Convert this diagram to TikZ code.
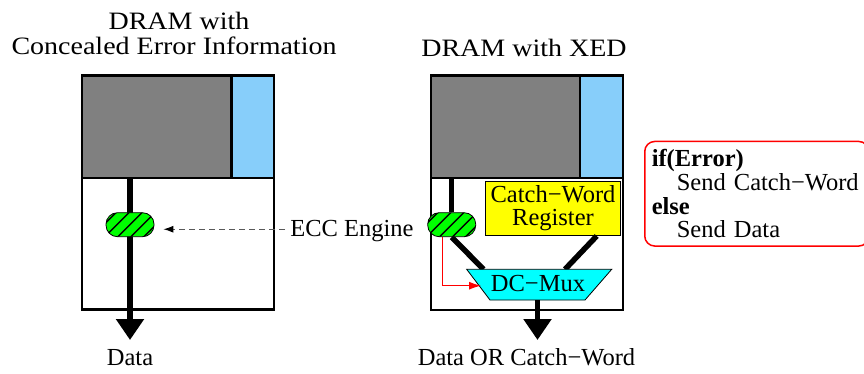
\documentclass[tikz,border=0pt]{standalone}
\usepackage{fontspec}
\setmainfont{Liberation Serif}
\newfontfamily\titlefont[FakeStretch=1.12]{Liberation Serif}
\usetikzlibrary{arrows.meta,calc}
\definecolor{dgray}{RGB}{128,128,128}
\definecolor{lblue}{RGB}{135,206,250}
\definecolor{pgreen}{RGB}{0,255,0}
\definecolor{pyellow}{RGB}{255,255,0}
\definecolor{pcyan}{RGB}{0,255,255}
\definecolor{pred}{RGB}{255,0,0}
\pgfdeclarelayer{top}
\pgfsetlayers{main,top}
\begin{document}
\begin{tikzpicture}[x=1pt,y=-1pt,
  box/.style={draw, line width=2.5, inner sep=0, anchor=north west},
  lbl/.style={font=\fontsize{24.5}{23.7}\selectfont, inner sep=0, anchor=base},
  ttl/.style={font=\titlefont\fontsize{25}{25}\selectfont, inner sep=0, anchor=base},
  bus/.style={line width=5.5},
  bigarrow/.style={line width=5.5, -{Triangle[length=21pt,width=27pt]}},
  pill/.style={draw=black, line width=0.8, fill=pgreen, rounded corners=11.5,
    minimum width=48, minimum height=24, inner sep=0,
    path picture={\foreach \i in {-3,...,3}{\draw[line width=1.4]
      ($(path picture bounding box.center)+(\i*13-20,20)$) -- ++(40,-40);}}},
  eccarrow/.style={draw=gray!70!black, line width=1, dash pattern=on 6pt off 4pt,
    -{Latex[length=10pt,width=7pt,color=black]}},
  redarrow/.style={draw=pred, line width=1, -{Latex[length=12pt,width=8pt]}}
]
\useasboundingbox (0,0) rectangle (864,373);

% titles
\node[ttl] (t1a) at (179,29.3) {DRAM with};
\node[ttl] (t1b) at (174,54) {Concealed Error Information};
\node[ttl] (t2) at (524,56.7) {DRAM with XED};

% left DRAM
\node[box, fill=white, minimum width=192, minimum height=131.5] (lbot) at (80.5,176.5) {};
\node[box, fill=dgray, minimum width=149.5, minimum height=102.5] (lgray) at (80.5,74) {};
\node[box, fill=lblue, minimum width=42.5, minimum height=102.5] (lblue) at (230,74) {};

% right DRAM
\node[box, fill=white, minimum width=192, minimum height=132] (rbot) at (429.5,176.5) {};
\node[box, fill=dgray, minimum width=149, minimum height=102.5] (rgray) at (429.5,74) {};
\node[box, fill=lblue, minimum width=43, minimum height=102.5] (rblue) at (578.5,74) {};

\node[draw, line width=1, fill=pyellow, anchor=north west, minimum width=135,
  minimum height=54.3, inner sep=0, align=center,
  font=\fontsize{24.5}{22.6}\selectfont] (reg) at (485,180.7) {Catch−Word\\Register};

% pills (on top layer)
\begin{pgfonlayer}{top}
\node[pill] (lpill) at (130,224.7) {};
\node[pill] (rpill) at (451.7,224.7) {};
\end{pgfonlayer}

% left bus
\coordinate (ltip) at (130,340);
\draw[bigarrow] (lpill.north |- lgray.south) -- (ltip);

% ECC label and arrow
\node[lbl] (ecc) at (352,236.7) {ECC Engine};
\draw[eccarrow] ($(ecc.west)+(-5,-2)$) -- ($(ecc.west -| lpill.east)+(9,-2)$);

% mux geometry
\coordinate (mtl) at (466.7,269.3);
\coordinate (mtr) at (611.7,269.3);
\coordinate (mbr) at (585,300);
\coordinate (mbl) at (490,300);
\coordinate (min1) at (483.5,269.3);
\coordinate (min2) at (565,269.3);
\coordinate (mout) at (537.5,300);
\coordinate (rtip) at (537.5,340);
\coordinate (redin) at (481,285.7);

% right buses
\draw[bus] (rpill.north |- rgray.south) -- (rpill.north);
\draw[bus] (rpill.south) -- (min1);
\draw[bus] (reg.south -| 596.7,0) -- (min2);

% mux
\draw[line width=0.8, fill=pcyan] (mtl) -- (mtr) -- (mbr) -- (mbl) -- cycle;
\node[lbl] (mux) at (538,291.7) {DC−Mux};

\draw[bigarrow] (mout) -- (rtip);
\draw[redarrow] ($(rpill.south)+(-9,0)$) |- (redin);

% bottom labels
\node[lbl] (ldata) at (130,365) {Data};
\node[lbl] (rdata) at (526.5,365) {Data OR Catch−Word};

% condition box
\node[draw=pred, line width=1.5, rounded corners=10, anchor=north west,
  inner xsep=7, inner ysep=8, text width=210, align=left,
  font=\fontsize{24.5}{23.7}\selectfont] (cond) at (644,140.7)
  {\textbf{if(Error)}\\\hspace*{25pt}Send Catch−Word\\\textbf{else}\\\hspace*{25pt}Send Data};
\end{tikzpicture}
\end{document}
